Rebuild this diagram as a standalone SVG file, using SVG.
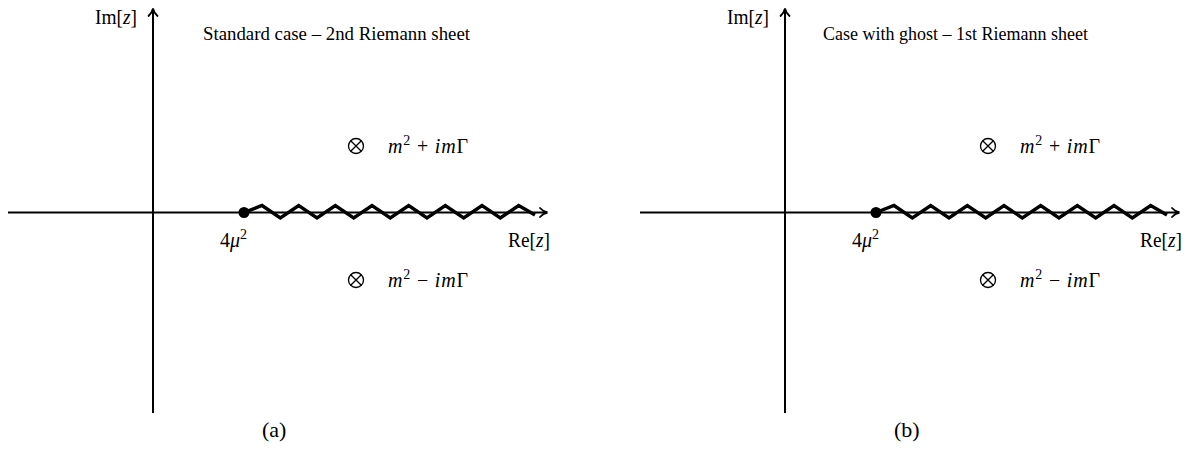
<svg xmlns="http://www.w3.org/2000/svg" width="1191" height="450" viewBox="0 0 1191 450">
<style>
  .ax{stroke:#000;stroke-width:2;fill:none}
  .zz{stroke:#000;stroke-width:3.4;fill:none;stroke-linejoin:miter}
  .t{font-family:"Liberation Serif","DejaVu Serif",serif;fill:#000}
  .i{font-style:italic}
  .ot{stroke:#000;stroke-width:1.3;fill:none}
</style>
<defs>
  <marker id="arr" markerWidth="12" markerHeight="12" refX="9" refY="6" orient="auto" markerUnits="userSpaceOnUse">
    <path d="M2,1.5 Q5,5 9.5,6 Q5,7 2,10.5" fill="none" stroke="#000" stroke-width="1.8" stroke-linecap="round"/>
  </marker>
  <g id="otimes">
    <circle cx="0" cy="0" r="7.5" class="ot"/>
    <path d="M-5.3,-5.3 L5.3,5.3 M-5.3,5.3 L5.3,-5.3" class="ot"/>
  </g>
</defs>

<g id="connectors">
  <line id="a-re-axis" x1="8" y1="212.5" x2="547" y2="212.5" class="ax" marker-end="url(#arr)"/>
  <line id="a-im-axis" x1="153" y1="413" x2="153" y2="9" class="ax" marker-end="url(#arr)"/>
  <path id="a-cut" class="zz" d="M244,212.5 L262,205.5 L280.3,218 L298.7,205.5 L317,218 L335.3,205.5 L353.7,218 L372,205.5 L390.3,218 L408.7,205.5 L427,218 L445.3,205.5 L463.7,218 L482,205.5 L500.3,218 L518.7,205.5 L535,215"/>
  <line id="b-re-axis" x1="640" y1="212.5" x2="1179" y2="212.5" class="ax" marker-end="url(#arr)"/>
  <line id="b-im-axis" x1="785" y1="413" x2="785" y2="9" class="ax" marker-end="url(#arr)"/>
  <path id="b-cut" class="zz" transform="translate(632,0)" d="M244,212.5 L262,205.5 L280.3,218 L298.7,205.5 L317,218 L335.3,205.5 L353.7,218 L372,205.5 L390.3,218 L408.7,205.5 L427,218 L445.3,205.5 L463.7,218 L482,205.5 L500.3,218 L518.7,205.5 L535,215"/>
</g>

<g id="panel-a">
  <g id="a-im-label"><text class="t" x="95" y="24" font-size="20" textLength="42" lengthAdjust="spacingAndGlyphs">Im[<tspan class="i">z</tspan>]</text></g>
  <g id="a-title"><text class="t" x="203" y="40" font-size="19" textLength="267" lengthAdjust="spacingAndGlyphs">Standard case – 2nd Riemann sheet</text></g>
  <g id="a-branch"><circle cx="244" cy="212.5" r="5.5" fill="#000"/>
    <text class="t" x="220" y="247" font-size="20">4<tspan class="i">μ</tspan><tspan dy="-8" font-size="14">2</tspan></text></g>
  <g id="a-re-label"><text class="t" x="508" y="247" font-size="20" textLength="42" lengthAdjust="spacingAndGlyphs">Re[<tspan class="i">z</tspan>]</text></g>
  <g id="a-pole-up"><use href="#otimes" x="356" y="146"/>
    <text class="t" x="388" y="153" font-size="20" textLength="80" lengthAdjust="spacing"><tspan class="i">m</tspan><tspan dy="-8" font-size="14">2</tspan><tspan dy="8"> + </tspan><tspan class="i">im</tspan>Γ</text></g>
  <g id="a-pole-down"><use href="#otimes" x="356" y="280"/>
    <text class="t" x="388" y="287" font-size="20" textLength="80" lengthAdjust="spacing"><tspan class="i">m</tspan><tspan dy="-8" font-size="14">2</tspan><tspan dy="8"> − </tspan><tspan class="i">im</tspan>Γ</text></g>
  <g id="a-caption"><text class="t" x="262" y="437" font-size="22">(a)</text></g>
</g>

<g id="panel-b">
  <g id="b-im-label"><text class="t" x="727" y="24" font-size="20" textLength="42" lengthAdjust="spacingAndGlyphs">Im[<tspan class="i">z</tspan>]</text></g>
  <g id="b-title"><text class="t" x="823" y="40" font-size="19" textLength="265" lengthAdjust="spacingAndGlyphs">Case with ghost – 1st Riemann sheet</text></g>
  <g id="b-branch"><circle cx="876" cy="212.5" r="5.5" fill="#000"/>
    <text class="t" x="852" y="247" font-size="20">4<tspan class="i">μ</tspan><tspan dy="-8" font-size="14">2</tspan></text></g>
  <g id="b-re-label"><text class="t" x="1140" y="247" font-size="20" textLength="42" lengthAdjust="spacingAndGlyphs">Re[<tspan class="i">z</tspan>]</text></g>
  <g id="b-pole-up"><use href="#otimes" x="988" y="146"/>
    <text class="t" x="1020" y="153" font-size="20" textLength="80" lengthAdjust="spacing"><tspan class="i">m</tspan><tspan dy="-8" font-size="14">2</tspan><tspan dy="8"> + </tspan><tspan class="i">im</tspan>Γ</text></g>
  <g id="b-pole-down"><use href="#otimes" x="988" y="280"/>
    <text class="t" x="1020" y="287" font-size="20" textLength="80" lengthAdjust="spacing"><tspan class="i">m</tspan><tspan dy="-8" font-size="14">2</tspan><tspan dy="8"> − </tspan><tspan class="i">im</tspan>Γ</text></g>
  <g id="b-caption"><text class="t" x="894" y="437" font-size="22">(b)</text></g>
</g>
</svg>
